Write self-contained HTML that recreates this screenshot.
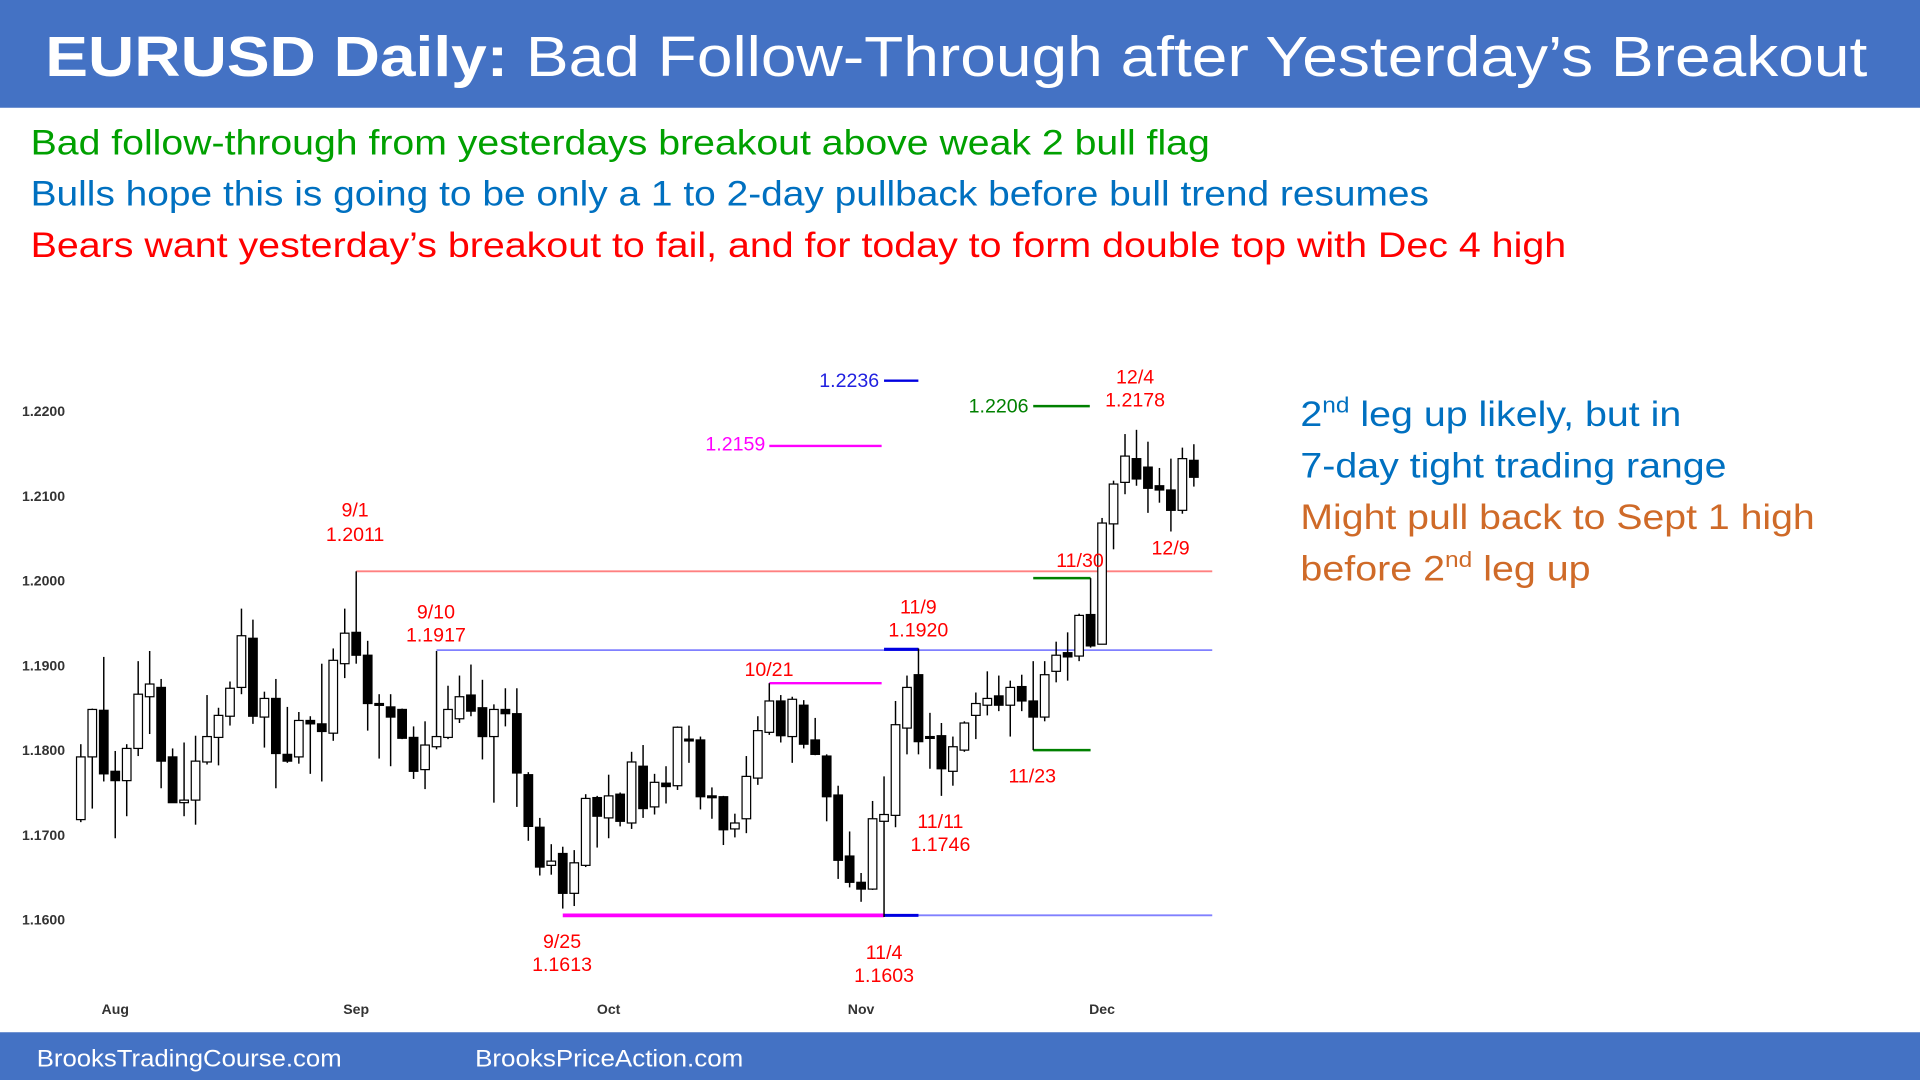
<!DOCTYPE html>
<html><head><meta charset="utf-8"><title>EURUSD Daily</title>
<style>
html,body{margin:0;padding:0;background:#fff;width:1920px;height:1080px;overflow:hidden}
svg{display:block}
text{font-family:"Liberation Sans",sans-serif}
</style></head>
<body>
<svg id="chart" width="1920" height="1080" viewBox="0 0 1568 882" xmlns="http://www.w3.org/2000/svg">
<rect x="0" y="0" width="1568" height="88" fill="#4472C4"/>
<text x="37" y="62" font-size="46" fill="#fff" textLength="1488" lengthAdjust="spacingAndGlyphs"><tspan font-weight="bold">EURUSD Daily:</tspan> Bad Follow-Through after Yesterday’s Breakout</text>
<text x="25" y="126" font-size="29" fill="#00A000" textLength="963" lengthAdjust="spacingAndGlyphs">Bad follow-through from yesterdays breakout above weak 2 bull flag</text>
<text x="25" y="168" font-size="29" fill="#0070C0" textLength="1142" lengthAdjust="spacingAndGlyphs">Bulls hope this is going to be only a 1 to 2-day pullback before bull trend resumes</text>
<text x="25" y="210" font-size="29" fill="#FF0000" textLength="1254" lengthAdjust="spacingAndGlyphs">Bears want yesterday’s breakout to fail, and for today to form double top with Dec 4 high</text>
<text x="1062" y="348" font-size="29" fill="#0070C0" textLength="311" lengthAdjust="spacingAndGlyphs">2<tspan font-size="18" dy="-11">nd</tspan><tspan dy="11"> leg up likely, but in</tspan></text>
<text x="1062" y="390" font-size="29" fill="#0070C0" textLength="348" lengthAdjust="spacingAndGlyphs">7-day tight trading range</text>
<text x="1062" y="432" font-size="29" fill="#CF6A28" textLength="420" lengthAdjust="spacingAndGlyphs">Might pull back to Sept 1 high</text>
<text x="1062" y="474" font-size="29" fill="#CF6A28" textLength="237" lengthAdjust="spacingAndGlyphs">before 2<tspan font-size="18" dy="-11">nd</tspan><tspan dy="11"> leg up</tspan></text>
<rect x="0" y="843" width="1568" height="39" fill="#4472C4"/>
<text x="30" y="871" font-size="20" fill="#fff" textLength="249" lengthAdjust="spacingAndGlyphs">BrooksTradingCourse.com</text>
<text x="388" y="871" font-size="20" fill="#fff" textLength="219" lengthAdjust="spacingAndGlyphs">BrooksPriceAction.com</text>
<g id="plot"></g>
</svg>
<script>
const opens=[1.1718,1.1792,1.1847,1.1775,1.1764,1.1802,1.1863,1.1874,1.1792,1.1738,1.1741,1.1786,1.1815,1.1840,1.1874,1.1932,1.1839,1.1861,1.1795,1.1792,1.1835,1.1831,1.1820,1.1902,1.1939,1.1912,1.1855,1.1851,1.1848,1.1815,1.1777,1.1804,1.1815,1.1837,1.1865,1.1850,1.1816,1.1848,1.1843,1.1771,1.1709,1.1664,1.1678,1.1631,1.1664,1.1744,1.1720,1.1748,1.1714,1.1781,1.1733,1.1761,1.1758,1.1813,1.1812,1.1746,1.1745,1.1707,1.1719,1.1767,1.1821,1.1858,1.1816,1.1853,1.1812,1.1793,1.1747,1.1675,1.1644,1.1636,1.1716,1.1723,1.1826,1.1889,1.1816,1.1817,1.1775,1.1800,1.1841,1.1853,1.1864,1.1853,1.1875,1.1858,1.1839,1.1893,1.1915,1.1911,1.1960,1.1925,1.2067,1.2116,1.2144,1.2134,1.2112,1.2107,1.2083,1.2142];
const highs=[1.1807,1.1849,1.1910,1.1799,1.1807,1.1905,1.1917,1.1884,1.1802,1.1809,1.1817,1.1865,1.1850,1.1881,1.1967,1.1954,1.1869,1.1884,1.1851,1.1845,1.1840,1.1902,1.1920,1.1967,1.2011,1.1929,1.1866,1.1866,1.1849,1.1828,1.1834,1.1917,1.1876,1.1888,1.1901,1.1883,1.1854,1.1873,1.1873,1.1774,1.1720,1.1689,1.1686,1.1682,1.1748,1.1746,1.1771,1.1750,1.1798,1.1806,1.1772,1.1781,1.1828,1.1829,1.1816,1.1756,1.1746,1.1725,1.1793,1.1840,1.1879,1.1865,1.1863,1.1859,1.1838,1.1795,1.1758,1.1704,1.1655,1.1740,1.1769,1.1858,1.1888,1.1920,1.1844,1.1832,1.1816,1.1834,1.1868,1.1893,1.1888,1.1882,1.1889,1.1905,1.1905,1.1928,1.1939,1.1961,1.2003,1.2074,1.2118,1.2173,1.2178,1.2164,1.2133,1.2144,1.2157,1.2161];
const lows=[1.1715,1.1731,1.1763,1.1696,1.1722,1.1793,1.1819,1.1755,1.1738,1.1722,1.1712,1.1783,1.1782,1.1829,1.1866,1.1831,1.1803,1.1755,1.1785,1.1784,1.1772,1.1763,1.1811,1.1885,1.1902,1.1823,1.1790,1.1781,1.1813,1.1766,1.1754,1.1801,1.1813,1.1832,1.1840,1.1789,1.1738,1.1828,1.1733,1.1693,1.1652,1.1653,1.1613,1.1616,1.1662,1.1685,1.1696,1.1710,1.1707,1.1720,1.1724,1.1737,1.1753,1.1785,1.1730,1.1719,1.1688,1.1697,1.1702,1.1759,1.1818,1.1809,1.1785,1.1802,1.1794,1.1716,1.1648,1.1638,1.1621,1.1635,1.1603,1.1709,1.1795,1.1795,1.1778,1.1746,1.1758,1.1798,1.1813,1.1841,1.1846,1.1816,1.1846,1.1800,1.1834,1.1880,1.1882,1.1905,1.1921,1.1925,1.2037,1.2102,1.2112,1.2080,1.2092,1.2058,1.2079,1.2111];
const closes=[1.1792,1.1848,1.1772,1.1764,1.1802,1.1866,1.1878,1.1787,1.1738,1.1741,1.1787,1.1816,1.1841,1.1873,1.1935,1.1840,1.1861,1.1796,1.1787,1.1835,1.1831,1.1822,1.1906,1.1938,1.1912,1.1855,1.1853,1.1839,1.1814,1.1775,1.1806,1.1816,1.1848,1.1863,1.1846,1.1816,1.1848,1.1843,1.1773,1.1710,1.1662,1.1669,1.1631,1.1667,1.1743,1.1722,1.1746,1.1716,1.1786,1.1731,1.1762,1.1757,1.1827,1.1812,1.1745,1.1745,1.1706,1.1714,1.1769,1.1823,1.1858,1.1817,1.1860,1.1807,1.1795,1.1745,1.1670,1.1644,1.1636,1.1719,1.1724,1.1830,1.1874,1.1810,1.1815,1.1778,1.1804,1.1832,1.1855,1.1861,1.1853,1.1874,1.1858,1.1839,1.1889,1.1912,1.1910,1.1959,1.1923,1.2068,1.2114,1.2147,1.2120,1.2109,1.2107,1.2083,1.2144,1.2122];
const yTicks=[1.16,1.17,1.18,1.19,1.20,1.21,1.22];
const monthLabels=["Aug","Sep","Oct","Nov","Dec"];
const monthIndex=[3,24,46,68,89];

const NS="http://www.w3.org/2000/svg";
const plot=document.getElementById('plot');
function x(i){return 66+i*9.371;}
function y(p){return 751-(p-1.16)*6920;}
function mk(tag,attrs,parent){const e=document.createElementNS(NS,tag);for(const k in attrs)e.setAttribute(k,attrs[k]);(parent||plot).appendChild(e);return e;}
function txt(s,attrs){const e=mk('text',attrs);e.textContent=s;return e;}

yTicks.forEach(function(t){
  const e=txt(t.toFixed(4),{x:18,y:y(t)+4,'font-size':11.5,'font-weight':'bold',fill:'#333'});
  
  
});
monthLabels.forEach(function(m,k){
  const e=txt(m,{x:x(monthIndex[k]),y:828,'font-size':11.5,'font-weight':'bold',fill:'#333','text-anchor':'middle'});
  
  
});

// level lines
function line(x1,y1,x2,y2,c,w,name){const e=mk('line',{x1:x1,y1:y1,x2:x2,y2:y2,stroke:c,'stroke-width':w});
  
  
  return e;}
line(x(24),y(1.2011),990,y(1.2011),'#FF8080',1.5,'sep1-high-line');
line(x(31),y(1.1918),990,y(1.1918),'#8080FF',1.5,'sep10-high-line');
line(x(42),y(1.1605),x(70),y(1.1605),'#FF00FF',3,'sep25-low-line');
line(x(70),y(1.1605),990,y(1.1605),'#8080FF',1.5,'nov4-low-line');
line(x(70),y(1.1605),x(73),y(1.1605),'#0000E0',2.5,'nov4-low-mark');
line(x(70),y(1.1919),x(73),y(1.1919),'#0000E0',2.5,'nov9-high-mark');
line(x(60),y(1.1879),720,y(1.1879),'#FF00FF',2,'oct21-high-line');
line(x(60),y(1.2159),720,y(1.2159),'#FF00FF',2,'target-1-2159-line');
line(x(70),y(1.2236),750,y(1.2236),'#0000E0',2,'target-1-2236-line');
line(x(83),y(1.2206),890,y(1.2206),'#008000',2,'target-1-2206-line');
line(x(83),y(1.2003),x(88),y(1.2003),'#008000',2,'nov30-high-line');
line(x(83),y(1.1800),x(88),y(1.1800),'#008000',2,'nov23-low-line');

// candles
for(let i=0;i<opens.length;i++){
  const g=mk('g',{});
  
  
  const cx=x(i);
  mk('line',{x1:cx,y1:y(highs[i]),x2:cx,y2:y(lows[i]),stroke:'#000','stroke-width':1.2},g);
  const up=closes[i]>=opens[i];
  const top=y(Math.max(opens[i],closes[i])),bot=y(Math.min(opens[i],closes[i]));
  mk('rect',{x:cx-3.5,y:top,width:7,height:Math.max(bot-top,1.5),fill:up?'#fff':'#000',stroke:'#000','stroke-width':1},g);
}

// annotations
function lab(s,xx,yy,c,name,anchor){const e=txt(s,{x:xx,y:yy,'font-size':16,fill:c,'text-anchor':anchor||'middle'});
  
  }
lab('12/4',927,313,'#FF0000','label-dec4');lab('1.2178',927,332,'#FF0000','label-dec4-price');
lab('9/1',290,422,'#FF0000','label-sep1');lab('1.2011',290,442,'#FF0000','label-sep1-price');
lab('9/10',356,505,'#FF0000','label-sep10');lab('1.1917',356,524,'#FF0000','label-sep10-price');
lab('11/9',750,501,'#FF0000','label-nov9');lab('1.1920',750,520,'#FF0000','label-nov9-price');
lab('10/21',628,552,'#FF0000','label-oct21');
lab('11/30',882,463,'#FF0000','label-nov30');
lab('12/9',956,453,'#FF0000','label-dec9');
lab('11/23',843,639,'#FF0000','label-nov23');
lab('11/11',768,676,'#FF0000','label-nov11');lab('1.1746',768,695,'#FF0000','label-nov11-price');
lab('9/25',459,774,'#FF0000','label-sep25');lab('1.1613',459,793,'#FF0000','label-sep25-price');
lab('11/4',722,783,'#FF0000','label-nov4');lab('1.1603',722,802,'#FF0000','label-nov4-price');
lab('1.2159',625,368,'#FF00FF','label-target-1-2159','end');
lab('1.2236',718,316,'#2020E0','label-target-1-2236','end');
lab('1.2206',840,337,'#008000','label-target-1-2206','end');
</script>
</body></html>
